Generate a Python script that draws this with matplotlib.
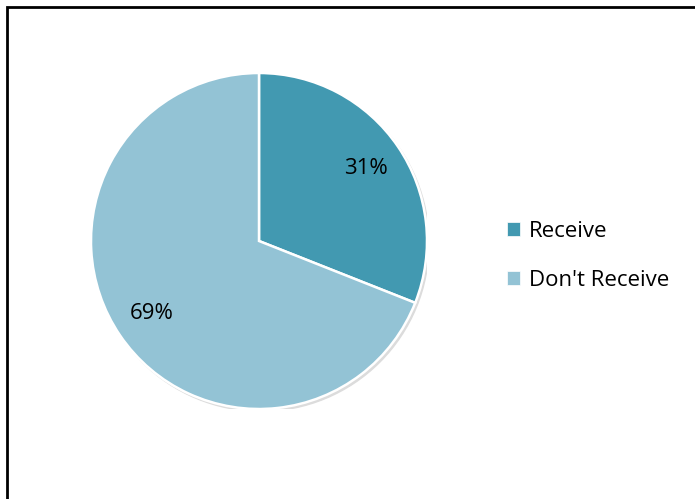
import matplotlib.pyplot as plt
from matplotlib.patches import Rectangle, Circle

labels = ["Receive", "Don't Receive"]
shares = [31, 69]
colors = ["#4299B1", "#93C3D5"]

W, H = 695, 499
fig = plt.figure(figsize=(W / 100, H / 100), dpi=100)
fig.patch.set_facecolor("white")

# chart frame: only top and left edges fall inside the image
fig.add_artist(Rectangle((7 / W, -0.1), 1.2, (H - 7) / H + 0.1,
                         transform=fig.transFigure, fill=False,
                         edgecolor="black", linewidth=2.0))

# pie area, in pixels from top-left
cx, cy, r = 259, 241, 168
ax = fig.add_axes([(cx - r) / W, (H - cy - r) / H, 2 * r / W, 2 * r / H])

# faint drop shadow
ax.add_patch(Circle((0.012, -0.014), 1.0, color="#dcdcdc", zorder=0))

wedges, texts, autotexts = ax.pie(
    shares, colors=colors, startangle=90, counterclock=False,
    autopct="%d%%", pctdistance=0.77,
    wedgeprops=dict(edgecolor="white", linewidth=1.8),
    textprops=dict(fontsize=16, family="Open Sans", color="black"),
)
ax.set_xlim(-1, 1)
ax.set_ylim(-1, 1)
ax.set_aspect("equal")
ax.axis("off")

leg = fig.legend(wedges, labels, loc="upper left",
                 bbox_to_anchor=(487 / W, 1 - 201 / H),
                 frameon=False, handlelength=0.6, handleheight=0.6,
                 handletextpad=0.4, labelspacing=1.25,
                 prop=dict(family="Open Sans", size=16))
for h in leg.legend_handles:
    h.set_edgecolor("white")
    h.set_linewidth(0.5)

fig.savefig("out.png", dpi=100)
